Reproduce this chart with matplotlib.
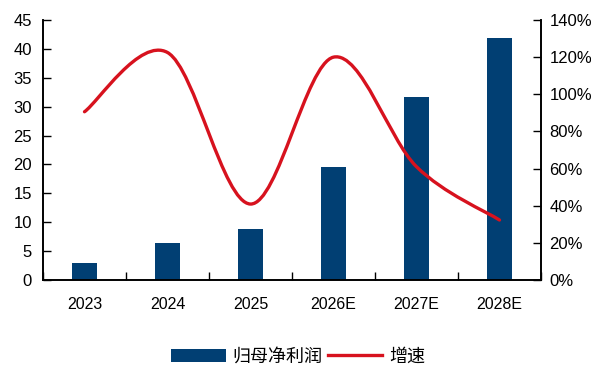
import matplotlib
matplotlib.use('Agg')
import matplotlib.pyplot as plt
from matplotlib.path import Path
from matplotlib.patches import PathPatch, Patch
from matplotlib.lines import Line2D
import numpy as np

years = ['2023', '2024', '2025', '2026E', '2027E', '2028E']
profit = [2.9, 6.35, 8.85, 19.6, 31.7, 41.9]
growth = [90.6, 122.5, 40.9, 120.0, 61.0, 32.3]

bar_color = '#013F73'
line_color = '#D7121E'

plt.rcParams['font.family'] = ['Liberation Sans', 'Noto Sans CJK SC', 'DejaVu Sans']

fig = plt.figure(figsize=(5.91, 3.71), dpi=100)
ax = fig.add_axes([43 / 591, 1 - 280 / 371, 498 / 591, 260 / 371])
ax2 = ax.twinx()

x = np.arange(len(years))
ax.bar(x, profit, width=0.31, color=bar_color, zorder=2)
ax.set_xlim(-0.5, len(years) - 0.5)
ax.set_ylim(0, 45)
ax.set_yticks(range(0, 50, 5))
ax.set_xticks(x)
ax.set_xticklabels(years)
ax.set_xticks(np.arange(-0.5, len(years), 1), minor=True)
ax.tick_params(axis='x', which='major', length=0, pad=12, labelsize=11.5)
ax.tick_params(axis='x', which='minor', direction='in', length=6, width=1)
ax.tick_params(axis='y', direction='in', length=6, width=1, labelsize=12, pad=8)

# smooth curve (Excel-like) built as cubic bezier segments
pts = list(zip(x, growth))
verts = [pts[0]]
codes = [Path.MOVETO]
n = len(pts)
for i in range(n - 1):
    p0 = pts[i - 1] if i > 0 else pts[i]
    p1 = pts[i]
    p2 = pts[i + 1]
    p3 = pts[i + 2] if i + 2 < n else pts[i + 1]
    c1 = (p1[0] + (p2[0] - p0[0]) / 6, p1[1] + (p2[1] - p0[1]) / 6)
    c2 = (p2[0] - (p3[0] - p1[0]) / 6, p2[1] - (p3[1] - p1[1]) / 6)
    verts += [c1, c2, p2]
    codes += [Path.CURVE4] * 3
ax2.add_patch(PathPatch(Path(verts, codes), fill=False, edgecolor=line_color,
                        lw=2.4, capstyle='round', joinstyle='round', zorder=3))
ax2.set_ylim(0, 140)
ax2.set_yticks(range(0, 160, 20))
ax2.set_yticklabels([f'{v}%' for v in range(0, 160, 20)])
ax2.tick_params(axis='y', direction='in', length=6, width=1, labelsize=12, pad=6)

for a in (ax, ax2):
    a.spines['top'].set_visible(False)
    for s in ('left', 'right', 'bottom'):
        a.spines[s].set_linewidth(1.2)
        a.spines[s].set_color('black')

handles = [Patch(facecolor=bar_color, label='归母净利润'),
           Line2D([0], [0], color=line_color, lw=2.4, label='增速')]
fig.legend(handles=handles, loc='center', bbox_to_anchor=(0.505, 1 - 357 / 371),
           ncol=2, frameon=False, fontsize=13, handlelength=3.0, handleheight=0.75,
           columnspacing=0.3, handletextpad=0.4)

fig.savefig('out.png', dpi=100)
